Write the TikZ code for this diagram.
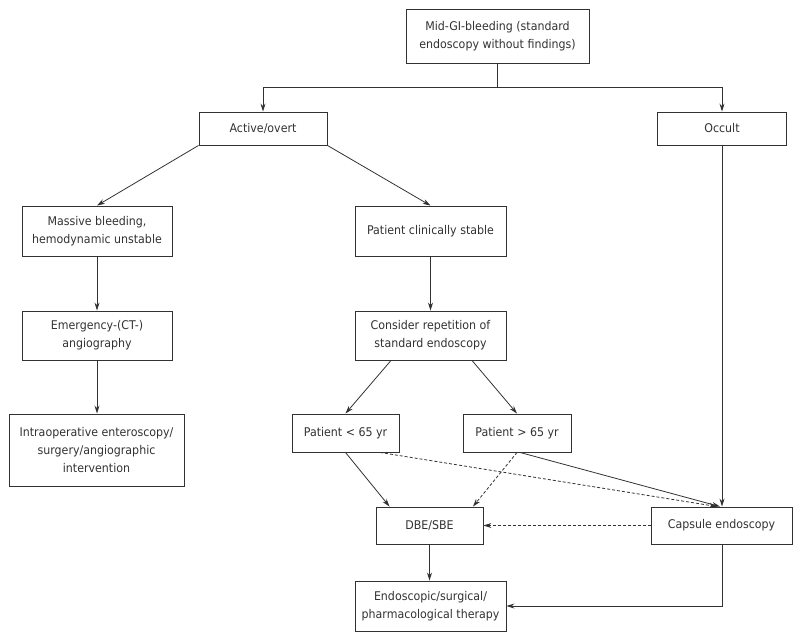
\documentclass[tikz,border=0pt]{standalone}
\usepackage{fontspec}
\setmainfont{DejaVu Sans}[FakeStretch=0.92]
\usepackage{tikz}
\usetikzlibrary{arrows.meta,calc}
\definecolor{linegray}{RGB}{50,50,50}
\tikzset{
  % Kästen des Flussdiagramms
  box/.style={
    draw=linegray,
    line width=0.9pt,
    inner sep=2pt,
    align=center,
    text=linegray,
    font=\fontsize{12}{18}\selectfont
  },
  % Pfeile
  arr/.style={-{Stealth[length=8pt,width=5pt]}, line width=0.8pt, linegray},
  darr/.style={arr, dash pattern=on 3pt off 2pt},
  seg/.style={line width=0.8pt, linegray},
}
\begin{document}
\begin{tikzpicture}[x=1pt, y=-1pt]
    \useasboundingbox (0,0) rectangle (800,642);

    % Ebene 1
    \node[box, minimum width=183pt, minimum height=54pt] (top) at (497.5, 36) {Mid-GI-bleeding (standard\\endoscopy without findings)};

    % Ebene 2
    \node[box, minimum width=128pt, minimum height=33pt] (active) at (263, 128.5) {Active/overt};
    \node[box, minimum width=129pt, minimum height=33pt] (occult) at (722, 128.5) {Occult};

    % Ebene 3
    \node[box, minimum width=150pt, minimum height=50pt] (massive) at (97, 231) {Massive bleeding,\\hemodynamic unstable};
    \node[box, minimum width=151pt, minimum height=50pt] (stable) at (430.5, 231) {Patient clinically stable};

    % Ebene 4
    \node[box, minimum width=150pt, minimum height=49pt] (emerg) at (97, 335.5) {Emergency-(CT-)\\angiography};
    \node[box, minimum width=151pt, minimum height=49pt] (consider) at (430.5, 335.5) {Consider repetition of\\standard endoscopy};

    % Ebene 5
    \node[box, minimum width=175pt, minimum height=72pt] (intraop) at (96.5, 450) {Intraoperative enteroscopy/\\surgery/angiographic\\intervention};
    \node[box, minimum width=107pt, minimum height=38pt] (young) at (345.5, 433) {Patient < 65 yr};
    \node[box, minimum width=108pt, minimum height=38pt] (old) at (517, 433) {Patient > 65 yr};

    % Ebene 6
    \node[box, minimum width=107pt, minimum height=37pt] (dbe) at (429.5, 525.5) {DBE/SBE};
    \node[box, minimum width=141pt, minimum height=37pt] (capsule) at (721.5, 525.5) {Capsule endoscopy};

    % Ebene 7
    \node[box, minimum width=151pt, minimum height=50pt] (therapy) at (430.5, 606) {Endoscopic/surgical/\\pharmacological therapy};

    % Verzweigung oben
    \coordinate (split) at ($(top.south)+(0,24)$);
    \draw[seg] (top.south) -- (split);
    \draw[arr] (split) -| (active.north);
    \draw[arr] (split) -| (occult.north);

    % aktive Blutung
    \draw[arr] (active.south west) -- (massive.north);
    \draw[arr] (active.south east) -- (stable.north);
    \draw[arr] (massive) -- (emerg);
    \draw[arr] (emerg.south) -- (emerg.south |- intraop.north);
    \draw[arr] (stable) -- (consider);
    \draw[arr] ($(consider.south)+(-39.5,0)$) -- (young.north);
    \draw[arr] ($(consider.south)+(41.5,0)$) -- (old.north);

    % Alter
    \draw[arr] (young.south) -- ($(dbe.north west)+(14,0)$);
    \draw[darr] ($(young.south)+(34.5,0)$) -- ($(capsule.north)+(-4.5,0)$);
    \draw[darr] (old.south) -- ($(dbe.north)+(43.5,0)$);
    \draw[arr] ($(old.south)+(3,0)$) -- ($(capsule.north)+(-1.5,0)$);

    % okkulte Blutung
    \draw[arr] (occult.south) -- (occult.south |- capsule.north);
    \draw[darr] (capsule.west) -- (dbe.east);
    \draw[arr] (dbe.south) -- (dbe.south |- therapy.north);
    \draw[arr] (occult.south |- capsule.south) |- (therapy.east);
\end{tikzpicture}
\end{document}
